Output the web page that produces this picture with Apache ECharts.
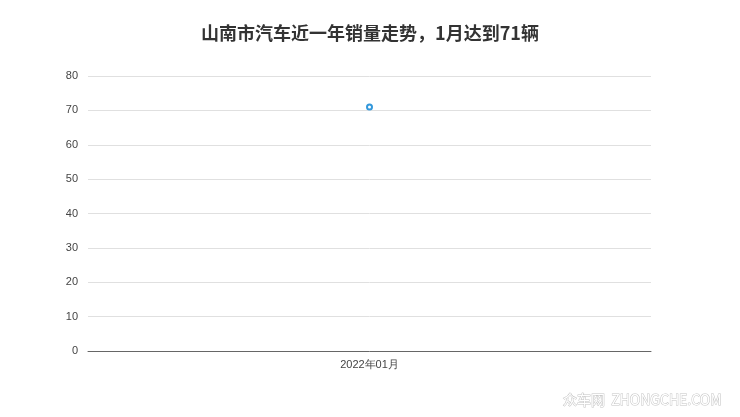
<!DOCTYPE html>
<html><head><meta charset="utf-8">
<script src="https://cdn.jsdelivr.net/npm/echarts@6/dist/echarts.min.js"></script>
<style>html,body{margin:0;padding:0;background:#fff}#c{width:740px;height:417px}</style>
</head><body><div id="c"></div>
<script>
const titleText = '山南市汽车近一年销量走势，1月达到71辆';
const categories = ['2022年01月'];
const salesValues = [71];
const yMin = 0, yMax = 80, yInterval = 10;

const chart = echarts.init(document.getElementById('c'));
chart.setOption({
  backgroundColor: '#fff',
  title: {
    text: titleText, left: 'center', top: 19,
    textStyle: { fontSize: 18, fontWeight: 'bold', color: '#333', fontFamily: 'Noto Sans CJK SC' }
  },
  graphic: [{
    type: 'text', right: 18, bottom: 10,
    style: { text: '众车网  ZHONGCHE.COM', fontSize: 14, fill: '#fff', stroke: '#c4c4c4', lineWidth: 1, fontFamily: 'Noto Sans CJK SC' }
  }],
  grid: { left: 88, right: 89, top: 76, bottom: 66 },
  xAxis: {
    type: 'category', data: categories, boundaryGap: true,
    axisLine: { lineStyle: { color: '#666' } },
    axisTick: { alignWithLabel: true, lineStyle: { color: '#666' } },
    axisLabel: { color: '#444', fontSize: 11, margin: 8 }
  },
  yAxis: {
    type: 'value', min: yMin, max: yMax, interval: yInterval,
    axisLine: { show: false }, axisTick: { show: false },
    axisLabel: { color: '#444', fontSize: 11, margin: 10 },
    splitLine: { lineStyle: { color: '#e0e0e0' } }
  },
  series: [{
    type: 'line', data: salesValues,
    symbol: 'circle', symbolSize: 5, showSymbol: true,
    itemStyle: { color: '#fff', borderColor: '#3398DB', borderWidth: 2 },
    lineStyle: { color: '#3398DB' }
  }]
});
</script></body></html>
